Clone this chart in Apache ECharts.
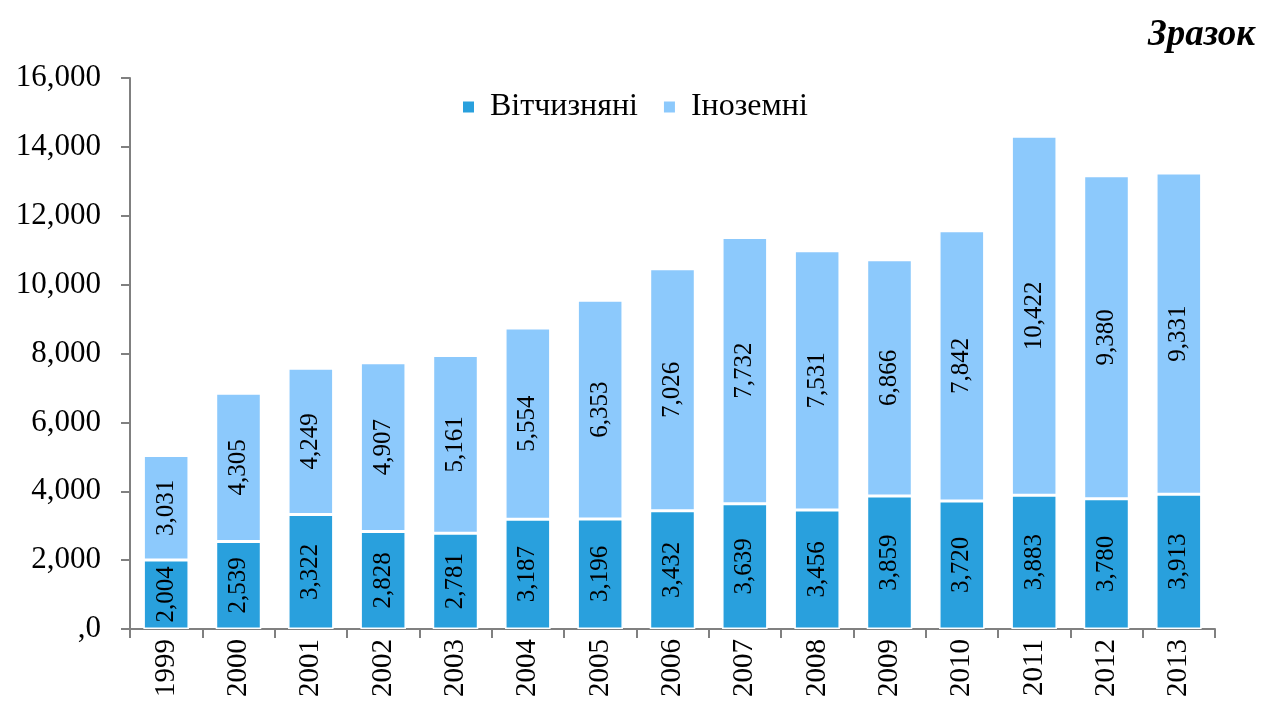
<!DOCTYPE html>
<html>
<head>
<meta charset="utf-8">
<script src="https://cdn.jsdelivr.net/npm/echarts@6/dist/echarts.min.js"></script>
<style>
    html, body { margin: 0; padding: 0; background: #fff; }
    #chart { width: 1264px; height: 704px; }
</style>
</head>
<body>
<div id="chart"></div>
<script>
var years = ['1999', '2000', '2001', '2002', '2003', '2004', '2005', '2006', '2007', '2008', '2009', '2010', '2011', '2012', '2013'];
var domestic = [2004, 2539, 3322, 2828, 2781, 3187, 3196, 3432, 3639, 3456, 3859, 3720, 3883, 3780, 3913];
var foreign = [3031, 4305, 4249, 4907, 5161, 5554, 6353, 7026, 7732, 7531, 6866, 7842, 10422, 9380, 9331];

function fmt(v) {
    if (v === 0) return ',0';
    return String(v).replace(/\B(?=(\d{3})+(?!\d))/g, ',');
}

var myChart = echarts.init(document.getElementById('chart'));

var labelOption = {
    show: true,
    position: 'inside',
    rotate: 90,
    fontFamily: 'Liberation Serif',
    fontSize: 25,
    color: '#000',
    formatter: function (p) { return fmt(p.value); }
};

var option = {
    textStyle: { fontFamily: 'Liberation Serif' },
    title: {
        text: 'Зразок',
        right: 4,
        top: 12,
        textStyle: {
            fontFamily: 'Liberation Serif',
            fontStyle: 'italic',
            fontWeight: 'bold',
            fontSize: 37,
            color: '#000'
        }
    },
    legend: {
        top: 86,
        left: 456,
        itemWidth: 13,
        itemHeight: 13,
        itemGap: 24,
        icon: 'rect',
        textStyle: {
            fontFamily: 'Liberation Serif',
            fontSize: 32,
            color: '#000',
            padding: [0, 0, 0, 10]
        },
        data: ['Вітчизняні', 'Іноземні']
    },
    grid: {
        left: 130,
        right: 49,
        top: 78,
        bottom: 75
    },
    xAxis: {
        type: 'category',
        data: years,
        axisLine: { lineStyle: { color: '#808080', width: 2 } },
        axisTick: { show: true, alignWithLabel: false, length: 9, lineStyle: { color: '#808080', width: 2 } },
        axisLabel: { rotate: 90, fontFamily: 'Liberation Serif', fontSize: 29, color: '#000', margin: 10 }
    },
    yAxis: {
        type: 'value',
        min: 0,
        max: 16000,
        interval: 2000,
        splitLine: { show: false },
        axisLine: { show: true, lineStyle: { color: '#808080', width: 2 } },
        axisTick: { show: true, length: 9, lineStyle: { color: '#808080', width: 2 } },
        axisLabel: {
            fontFamily: 'Liberation Serif',
            fontSize: 31,
            color: '#000',
            margin: 29,
            formatter: fmt
        }
    },
    series: [
        {
            name: 'Вітчизняні',
            type: 'bar',
            stack: 'total',
            barWidth: '63%',
            data: domestic,
            itemStyle: { color: '#29a0dd', borderColor: '#fff', borderWidth: 1.5 },
            label: labelOption
        },
        {
            name: 'Іноземні',
            type: 'bar',
            stack: 'total',
            barWidth: '63%',
            data: foreign,
            itemStyle: { color: '#8cc9fc', borderColor: '#fff', borderWidth: 1.5 },
            label: labelOption
        }
    ]
};

myChart.setOption(option);
</script>
</body>
</html>
